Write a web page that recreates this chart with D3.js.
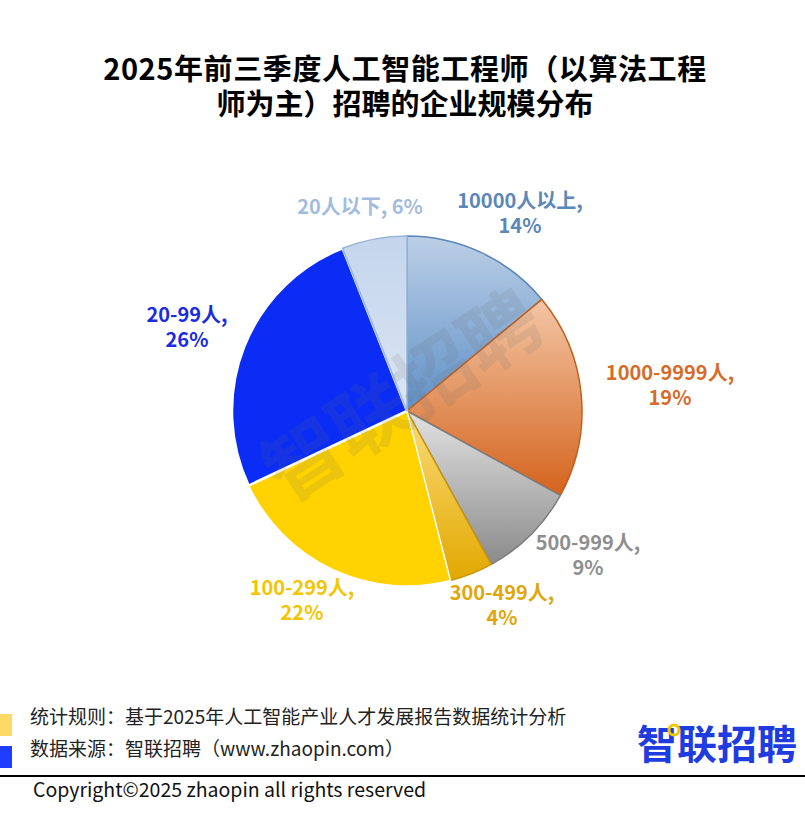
<!DOCTYPE html>
<html>
<head>
<meta charset="utf-8">
<script src="https://cdn.jsdelivr.net/npm/d3@7"></script>
<style>
  body { margin: 0; background: #fff; }
  svg { display: block; font-family: 'Noto Sans CJK SC', 'Noto Sans', sans-serif; }
</style>
</head>
<body>
<div id="wrapper"></div>
<script>
const categories = ['10000人以上', '1000-9999人', '500-999人', '300-499人', '100-299人', '20-99人', '20人以下']
const shares = [14, 19, 9, 4, 22, 26, 6]
const titleLines = ['2025年前三季度人工智能工程师（以算法工程', '师为主）招聘的企业规模分布']
const notes = ['统计规则：基于2025年人工智能产业人才发展报告数据统计分析', '数据来源：智联招聘（www.zhaopin.com）']

// top colour, bottom colour, edge, label colour
const sliceStyles = [
  { top: '#bccfe6', bottom: '#5f90c7', stroke: '#5a86b8', label: '#5b87b9' },
  { top: '#f3c6a6', bottom: '#d4631d', stroke: '#c25f1e', label: '#d56c2a' },
  { top: '#e2e2e2', bottom: '#8b8b8b', stroke: '#7d7d7d', label: '#8e8e8e' },
  { top: '#fbdc7a', bottom: '#e2a800', stroke: '#c8960a', label: '#e0a60c' },
  { top: '#ffd200', bottom: '#ffd200', stroke: '#ffffff', label: '#f5c400' },
  { top: '#0a2cf5', bottom: '#0a2cf5', stroke: '#ffffff', label: '#1a2be0' },
  { top: '#c4d5ec', bottom: '#dbe5f3', stroke: '#9db5d6', label: '#a3bcde' },
]

// label anchor points (first line), relative to pie centre
const labelSpots = [
  [113, -203], [263, -31], [181, 139], [95, 189], [-105, 184], [-220, -89], [-47, -197],
]

function drawPie() {
  const dimensions = {
    width: 805,
    height: 822,
    cx: 407,
    cy: 411,
    radius: 175,
  }

  const wrapper = d3.select('#wrapper')
    .append('svg')
    .attr('width', dimensions.width)
    .attr('height', dimensions.height)

  const defs = wrapper.append('defs')
  sliceStyles.forEach((s, i) => {
    const grad = defs.append('linearGradient')
      .attr('id', `grad${i}`)
      .attr('x1', 0).attr('y1', 0).attr('x2', 0).attr('y2', 1)
    grad.append('stop').attr('offset', '0%').attr('stop-color', s.top)
    grad.append('stop').attr('offset', '100%').attr('stop-color', s.bottom)
  })

  // title
  wrapper.append('g')
    .selectAll('text')
    .data(titleLines)
    .enter().append('text')
    .attr('x', 405)
    .attr('y', (d, i) => 80 + i * 35)
    .attr('text-anchor', 'middle')
    .attr('font-size', 29)
    .attr('letter-spacing', (d, i) => (i === 0 ? 0.6 : 0))
    .attr('font-weight', 'bold')
    .attr('fill', '#000')
    .text(d => d)

  const dataset = categories.map((c, i) => ({ name: c, value: shares[i], i }))

  const pieGenerator = d3.pie()
    .sort(null)
    .value(d => d.value)

  const arcGenerator = d3.arc()
    .innerRadius(0)
    .outerRadius(dimensions.radius)

  const bounds = wrapper.append('g')
    .attr('transform', `translate(${dimensions.cx}, ${dimensions.cy})`)

  const slices = bounds.selectAll('path')
    .data(pieGenerator(dataset))
    .enter().append('path')
    .attr('d', arcGenerator)
    .attr('fill', d => `url(#grad${d.data.i})`)
    .attr('stroke', d => sliceStyles[d.data.i].stroke)
    .attr('stroke-width', d => (d.data.i === 5 ? 2.5 : 1.5))
    .attr('stroke-linejoin', 'round')

  // watermark
  bounds.append('text')
    .attr('transform', 'translate(-8, -20) rotate(-33)')
    .attr('text-anchor', 'middle')
    .attr('dominant-baseline', 'central')
    .attr('font-size', 78)
    .attr('font-weight', 'bold')
    .attr('fill', '#6b6b6b')
    .attr('opacity', 0.13)
    .text('智联招聘')

  // labels
  const labels = bounds.selectAll('.label')
    .data(pieGenerator(dataset))
    .enter().append('text')
    .attr('class', 'label')
    .attr('text-anchor', 'middle')
    .attr('font-size', 20)
    .attr('font-weight', 'bold')
    .attr('fill', d => sliceStyles[d.data.i].label)

  labels.each(function (d) {
    const [lx, ly] = labelSpots[d.data.i]
    const el = d3.select(this)
    if (d.data.i === 6) {
      el.append('tspan').attr('x', lx).attr('y', ly).text(`${d.data.name}, ${d.data.value}%`)
    } else {
      el.append('tspan').attr('x', lx).attr('y', ly).text(`${d.data.name},`)
      el.append('tspan').attr('x', lx).attr('y', ly + 25).text(`${d.data.value}%`)
    }
  })

  // footer notes
  const noteColors = ['#ffd966', '#1f3cff']
  const footer = wrapper.append('g')
  footer.selectAll('rect')
    .data(noteColors)
    .enter().append('rect')
    .attr('x', 0)
    .attr('y', (d, i) => 714 + i * 32)
    .attr('width', 12)
    .attr('height', 22)
    .attr('fill', d => d)

  footer.selectAll('text')
    .data(notes)
    .enter().append('text')
    .attr('x', 30)
    .attr('y', (d, i) => 724 + i * 32)
    .attr('font-size', 19)
    .attr('fill', '#222')
    .text(d => d)

  footer.append('text')
    .attr('x', 797)
    .attr('y', 759)
    .attr('text-anchor', 'end')
    .attr('font-size', 40)
    .attr('font-weight', 'bold')
    .attr('fill', '#1f3ce0')
    .text('智联招聘')

  footer.append('circle')
    .attr('cx', 674)
    .attr('cy', 730)
    .attr('r', 5)
    .attr('fill', 'none')
    .attr('stroke', '#f5c400')
    .attr('stroke-width', 3)

  footer.append('line')
    .attr('x1', 0).attr('x2', 805)
    .attr('y1', 776).attr('y2', 776)
    .attr('stroke', '#000')
    .attr('stroke-width', 2)

  footer.append('text')
    .attr('x', 33)
    .attr('y', 797)
    .attr('font-size', 19.5)
    .attr('fill', '#111')
    .text('Copyright©2025 zhaopin all rights reserved')
}

drawPie()
</script>
</body>
</html>
